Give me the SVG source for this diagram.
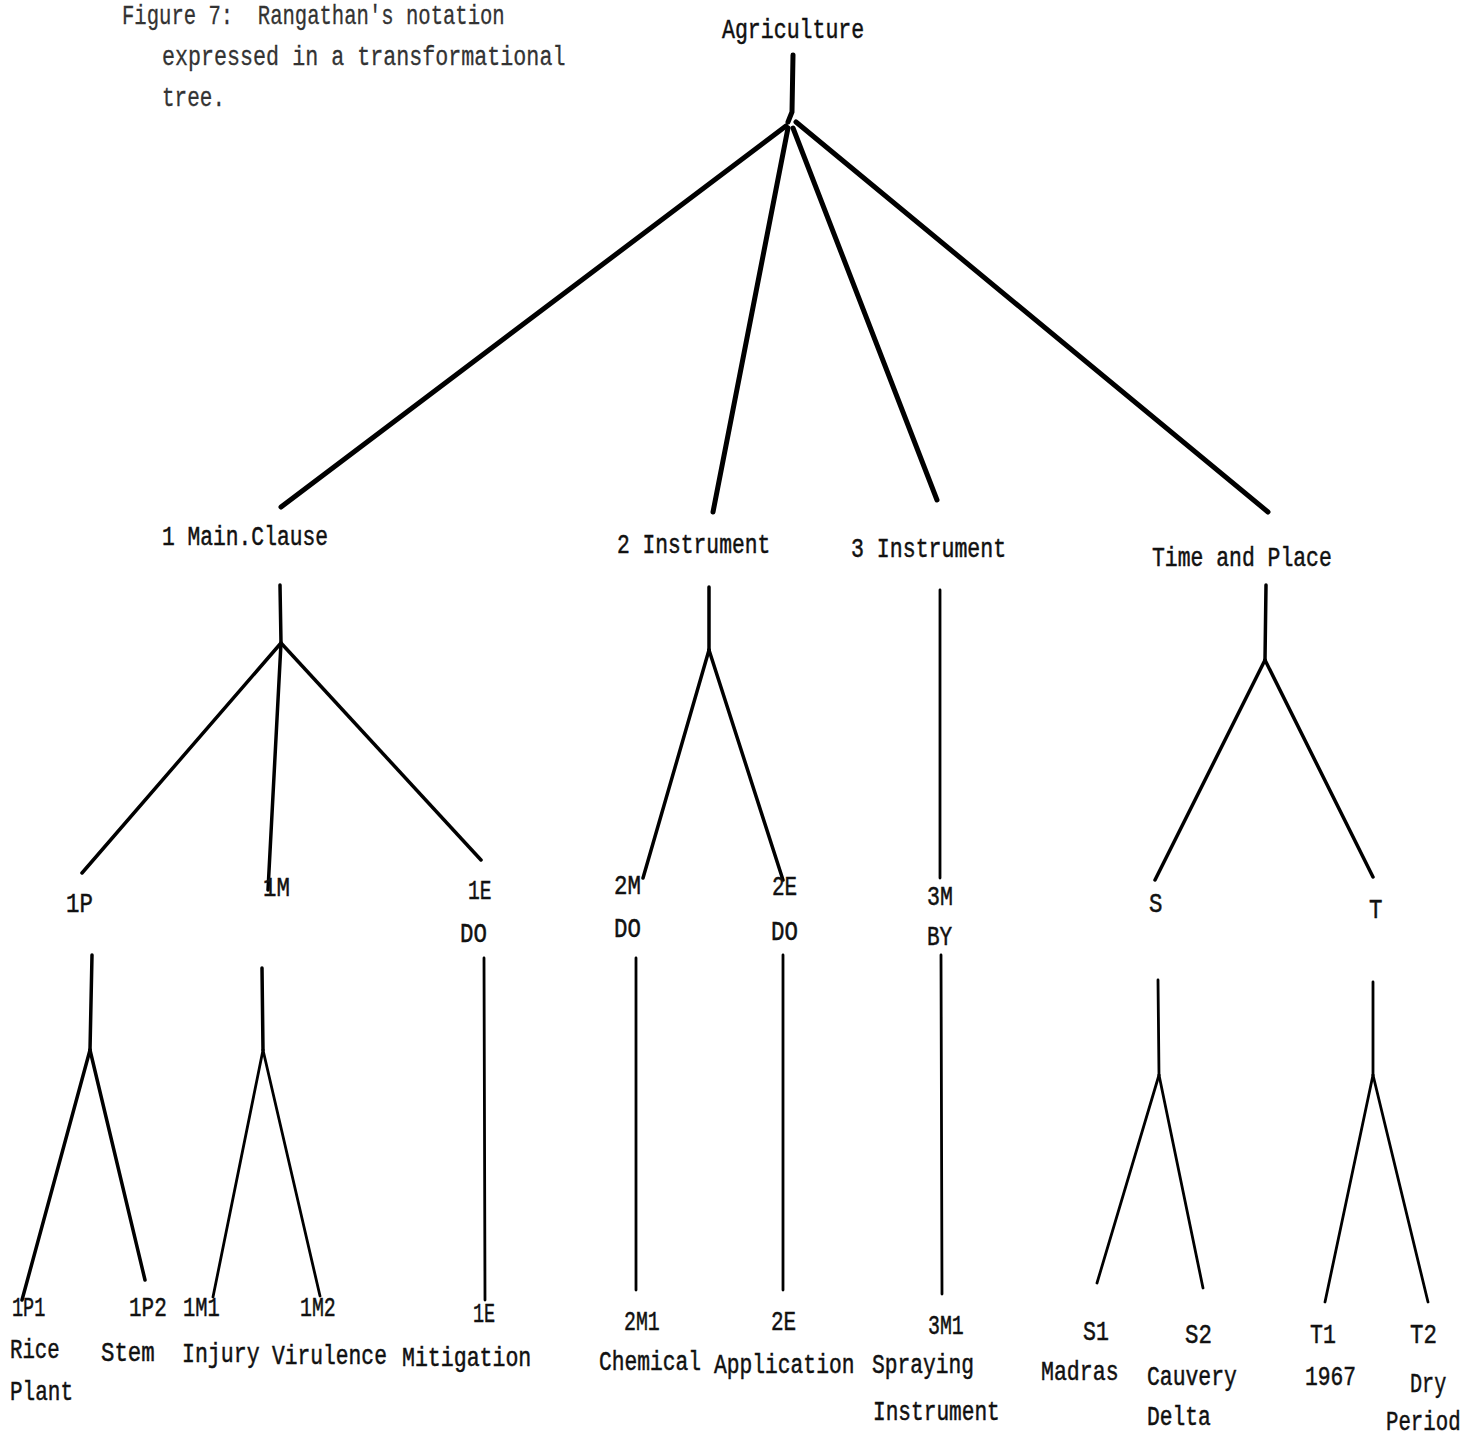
<svg xmlns="http://www.w3.org/2000/svg" width="1462" height="1437" viewBox="0 0 1462 1437">
<style>
text{font-family:"Liberation Mono","DejaVu Sans Mono",monospace;font-size:28px;fill:#111;stroke:#111;stroke-width:0.5;white-space:pre}
.t{fill:#333;stroke:#333;stroke-width:0.3}
.e{fill:none;stroke:#000;stroke-linecap:round}
.w1{stroke-width:5}
.w2{stroke-width:3.5}
.w3{stroke-width:2.8}
</style>
<rect width="1462" height="1437" fill="#fff"/>
<g id="caption">
<text class="t" xml:space="preserve" transform="translate(122 24) scale(0.735 1)">Figure 7:  Rangathan's notation</text>
<text class="t" transform="translate(162 65) scale(0.775 1)">expressed in a transformational</text>
<text class="t" transform="translate(162 106) scale(0.75 1)">tree.</text>
</g>
<g id="connectors">
<path class="e w1" d="M793 55 L792 112 L788 122"/>
<path class="e w1" d="M786 126 L281 507"/>
<path class="e w1" d="M788 128 L713 512"/>
<path class="e w1" d="M793 128 L937 500"/>
<path class="e w1" d="M796 122 L1268 512"/>
<path class="e w2" d="M280 585 L281 643"/>
<path class="e w2" d="M281 643 L82 873"/>
<path class="e w2" d="M281 643 L268 890"/>
<path class="e w2" d="M281 643 L481 860"/>
<path class="e w2" d="M709 587 L709 650"/>
<path class="e w2" d="M709 650 L643 878"/>
<path class="e w2" d="M709 650 L783 880"/>
<path class="e w3" d="M940 590 L940 878"/>
<path class="e w2" d="M1266 585 L1265 660"/>
<path class="e w2" d="M1265 660 L1155 880"/>
<path class="e w2" d="M1265 660 L1373 877"/>
<path class="e w2" d="M92 955 L90 1050"/>
<path class="e w2" d="M90 1050 L22 1300"/>
<path class="e w2" d="M90 1050 L145 1280"/>
<path class="e w2" d="M262 968 L263 1050"/>
<path class="e w3" d="M263 1050 L213 1297"/>
<path class="e w3" d="M263 1050 L320 1296"/>
<path class="e w3" d="M484 958 L485 1300"/>
<path class="e w3" d="M636 958 L636 1290"/>
<path class="e w3" d="M783 955 L783 1290"/>
<path class="e w3" d="M941 955 L942 1294"/>
<path class="e w3" d="M1158 980 L1159 1075"/>
<path class="e w3" d="M1159 1075 L1097 1283"/>
<path class="e w3" d="M1159 1075 L1203 1288"/>
<path class="e w3" d="M1373 982 L1373 1075"/>
<path class="e w3" d="M1373 1075 L1325 1302"/>
<path class="e w3" d="M1373 1075 L1428 1302"/>
</g>
<g id="n-agriculture"><text transform="translate(722 38) scale(0.77 1)">Agriculture</text></g>
<g id="n-1"><text transform="translate(162 545) scale(0.76 1)">1 Main.Clause</text></g>
<g id="n-2"><text transform="translate(617 553) scale(0.76 1)">2 Instrument</text></g>
<g id="n-3"><text transform="translate(851 557) scale(0.77 1)">3 Instrument</text></g>
<g id="n-tp"><text transform="translate(1152 566) scale(0.765 1)">Time and Place</text></g>
<g id="n-1p"><text transform="translate(66 912) scale(0.8 1)">1P</text></g>
<g id="n-1m"><text transform="translate(263 896) scale(0.8 1)">1M</text></g>
<g id="n-1e"><text transform="translate(468 899) scale(0.7 1)">1E</text><text transform="translate(460 942) scale(0.8 1)">DO</text></g>
<g id="n-2m"><text transform="translate(614 894) scale(0.8 1)">2M</text><text transform="translate(614 937) scale(0.8 1)">DO</text></g>
<g id="n-2e"><text transform="translate(772 895) scale(0.75 1)">2E</text><text transform="translate(771 940) scale(0.8 1)">DO</text></g>
<g id="n-3m"><text transform="translate(927 905) scale(0.77 1)">3M</text><text transform="translate(927 945) scale(0.75 1)">BY</text></g>
<g id="n-s"><text transform="translate(1149 912) scale(0.8 1)">S</text></g>
<g id="n-t"><text transform="translate(1369 918) scale(0.8 1)">T</text></g>
<g id="n-1p1"><text transform="translate(12 1316) scale(0.66 1)">1P1</text><text transform="translate(10 1358) scale(0.74 1)">Rice</text><text transform="translate(10 1400) scale(0.75 1)">Plant</text></g>
<g id="n-1p2"><text transform="translate(129 1316) scale(0.75 1)">1P2</text><text transform="translate(101 1361) scale(0.8 1)">Stem</text></g>
<g id="n-1m1"><text transform="translate(183 1316) scale(0.73 1)">1M1</text><text transform="translate(182 1362) scale(0.77 1)">Injury</text></g>
<g id="n-1m2"><text transform="translate(300 1316) scale(0.71 1)">1M2</text><text transform="translate(272 1364) scale(0.76 1)">Virulence</text></g>
<g id="n-1e-leaf"><text transform="translate(473 1322) scale(0.66 1)">1E</text><text transform="translate(402 1366) scale(0.77 1)">Mitigation</text></g>
<g id="n-2m1"><text transform="translate(624 1330) scale(0.71 1)">2M1</text><text transform="translate(599 1370) scale(0.76 1)">Chemical</text></g>
<g id="n-2e-leaf"><text transform="translate(771 1330) scale(0.75 1)">2E</text><text transform="translate(714 1373) scale(0.76 1)">Application</text></g>
<g id="n-3m1"><text transform="translate(928 1334) scale(0.71 1)">3M1</text><text transform="translate(872 1373) scale(0.76 1)">Spraying</text><text transform="translate(873 1420) scale(0.755 1)">Instrument</text></g>
<g id="n-s1"><text transform="translate(1083 1340) scale(0.77 1)">S1</text><text transform="translate(1041 1380) scale(0.77 1)">Madras</text></g>
<g id="n-s2"><text transform="translate(1185 1343) scale(0.8 1)">S2</text><text transform="translate(1147 1385) scale(0.765 1)">Cauvery</text><text transform="translate(1147 1425) scale(0.76 1)">Delta</text></g>
<g id="n-t1"><text transform="translate(1310 1343) scale(0.77 1)">T1</text><text transform="translate(1305 1385) scale(0.76 1)">1967</text></g>
<g id="n-t2"><text transform="translate(1410 1343) scale(0.8 1)">T2</text><text transform="translate(1410 1392) scale(0.72 1)">Dry</text><text transform="translate(1386 1430) scale(0.74 1)">Period</text></g>
</svg>
